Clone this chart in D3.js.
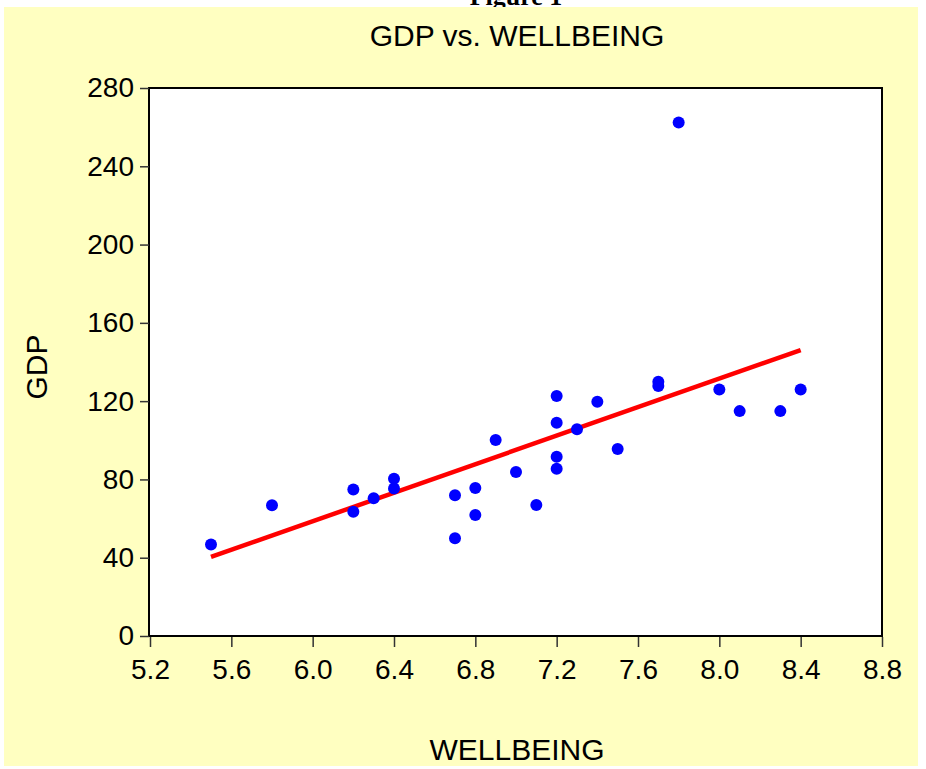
<!DOCTYPE html>
<html>
<head>
<meta charset="utf-8">
<script src="https://cdn.jsdelivr.net/npm/d3@7"></script>
<style>
  html, body { margin: 0; padding: 0; background: #ffffff; }
  svg { display: block; }
  text { font-family: Arial, "Liberation Sans", sans-serif; fill: #000; }
</style>
</head>
<body>
<svg id="chart" width="926" height="769"></svg>
<script>
// ---- data ----
const wellbeing = [5.5, 5.8, 6.2, 6.2, 6.3, 6.4, 6.4, 6.7, 6.7, 6.8, 6.8, 6.9, 7.0, 7.1,
                   7.2, 7.2, 7.2, 7.2, 7.3, 7.4, 7.5, 7.7, 7.7, 7.8, 8.0, 8.1, 8.3, 8.4];
const gdp       = [46.8, 66.8, 74.9, 63.5, 70.4, 80.3, 75.4, 71.9, 49.9, 75.6, 61.8, 100.2, 83.8, 66.9,
                   122.6, 108.9, 91.6, 85.5, 105.6, 119.7, 95.5, 129.9, 127.7, 262.4, 126.0, 114.9, 114.9, 126.0];
const fitX = [5.5, 8.4];
const fitY = [40.4, 146.1];
const xTicks = [5.2, 5.6, 6.0, 6.4, 6.8, 7.2, 7.6, 8.0, 8.4, 8.8];
const yTicks = [0, 40, 80, 120, 160, 200, 240, 280];
const titleText = "GDP vs. WELLBEING";
const xLabel = "WELLBEING";
const yLabel = "GDP";
const figureText = "Figure 1";

// ---- layout ----
const svg = d3.select("#chart");
const pLeft = 150, pRight = 882, pTop = 88, pBottom = 636;

svg.append("text")
  .attr("x", 516).attr("y", 5)
  .attr("text-anchor", "middle")
  .style("font-family", "'Liberation Serif', 'Times New Roman', serif")
  .style("font-weight", "bold")
  .style("font-size", "26px")
  .text(figureText);

svg.append("rect")
  .attr("x", 4).attr("y", 7).attr("width", 914).attr("height", 759)
  .attr("fill", "#ffffc1");

const x = d3.scaleLinear().domain([5.2, 8.8]).range([pLeft, pRight]);
const y = d3.scaleLinear().domain([0, 280]).range([pBottom, pTop]);

// plot area
svg.append("rect")
  .attr("x", pLeft - 1).attr("y", pTop).attr("width", pRight - pLeft + 1).attr("height", pBottom - pTop)
  .attr("fill", "#ffffff").attr("stroke", "#000").attr("stroke-width", 2);

// axes
const xAxis = d3.axisBottom(x).tickValues(xTicks).tickFormat(d3.format(".1f"))
  .tickSizeInner(10).tickSizeOuter(0).tickPadding(12);
const gx = svg.append("g").attr("transform", `translate(0,${pBottom + 1})`).call(xAxis);
gx.select(".domain").remove();
gx.selectAll("line").attr("stroke", "#333").attr("stroke-width", 1.5);
gx.selectAll("text").style("font-size", "28px").style("font-family", "Arial, 'Liberation Sans', sans-serif").attr("dy", "0.72em");

const yAxis = d3.axisLeft(y).tickValues(yTicks).tickFormat(d3.format("d"))
  .tickSizeInner(9).tickSizeOuter(0).tickPadding(6);
const gy = svg.append("g").attr("transform", `translate(${pLeft - 1},0)`).call(yAxis);
gy.select(".domain").remove();
gy.selectAll("line").attr("stroke", "#333").attr("stroke-width", 1.5);
gy.selectAll("text").style("font-size", "28px").style("font-family", "Arial, 'Liberation Sans', sans-serif");

// regression line
const line = d3.line().x(d => x(d[0])).y(d => y(d[1]));
svg.append("path")
  .datum(d3.zip(fitX, fitY))
  .attr("d", line)
  .attr("fill", "none").attr("stroke", "#ff0000").attr("stroke-width", 4.5);

// points
svg.append("g").selectAll("circle")
  .data(d3.zip(wellbeing, gdp))
  .join("circle")
  .attr("cx", d => x(d[0])).attr("cy", d => y(d[1]))
  .attr("r", 6).attr("fill", "#0000ff");

// titles
svg.append("text")
  .attr("x", (pLeft + pRight) / 2 + 1).attr("y", 46)
  .attr("text-anchor", "middle")
  .style("font-size", "30px")
  .text(titleText);

svg.append("text")
  .attr("x", (pLeft + pRight) / 2 + 1).attr("y", 760)
  .attr("text-anchor", "middle")
  .style("font-size", "30px")
  .text(xLabel);

svg.append("text")
  .attr("transform", "translate(47,367) rotate(-90)")
  .attr("text-anchor", "middle")
  .style("font-size", "30px")
  .text(yLabel);
</script>
</body>
</html>
